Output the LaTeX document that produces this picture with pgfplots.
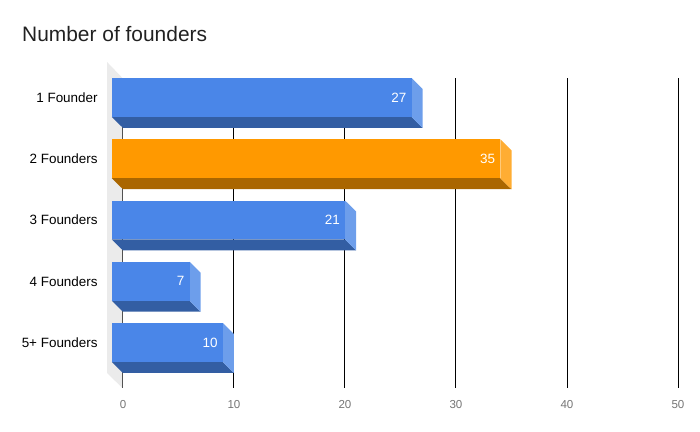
\documentclass[border=0pt]{standalone}
\usepackage{pgfplots}
\pgfplotsset{compat=1.18}
\usepackage{fontspec}
\setmainfont{Liberation Sans}

\definecolor{bfront}{HTML}{4A86E8}
\definecolor{bside}{HTML}{6D9EEB}
\definecolor{bbottom}{HTML}{335EA3}
\definecolor{ofront}{HTML}{FF9900}
\definecolor{oside}{HTML}{FFAD33}
\definecolor{obottom}{HTML}{AA6600}
\definecolor{wall}{HTML}{EBEBEB}
\definecolor{ticktext}{HTML}{757575}
\definecolor{titletext}{HTML}{212121}

% one 3D bar: value, row, front, side, bottom colour
\newcommand{\threedbar}[5]{%
  \pgfmathsetmacro{\xa}{#1-1}%
  \pgfmathsetmacro{\yt}{#2-0.318}%
  \pgfmathsetmacro{\yb}{#2+0.318}%
  \pgfmathsetmacro{\ytb}{#2-0.138}%
  \pgfmathsetmacro{\ybb}{#2+0.498}%
  \addplot[draw=none, fill=#5] coordinates {(-1,\yb) (\xa,\yb) (#1,\ybb) (0,\ybb)} -- cycle;
  \addplot[draw=none, fill=#4] coordinates {(\xa,\yt) (#1,\ytb) (#1,\ybb) (\xa,\yb)} -- cycle;
  \addplot[draw=none, fill=#3] coordinates {(-1,\yt) (\xa,\yt) (\xa,\yb) (-1,\yb)} -- cycle;
  \addplot[draw=none, nodes near coords={#1}, nodes near coords align=horizontal,
    every node near coord/.append style={anchor=east, xshift=-5bp, inner sep=0pt,
      text=white, font=\fontsize{13.5}{14}\selectfont}] coordinates {(\xa,#2)};
}

\begin{document}
\begin{tikzpicture}
\begin{axis}[
  at={(0,0)}, anchor=south west,
  scale only axis,
  width=555bp, height=310bp,
  xmin=0, xmax=50,
  ymin=-0.318, ymax=4.743,
  y dir=reverse,
  clip=false,
  axis x line=bottom, axis y line=left,
  axis line style={draw=none},
  tick style={draw=none},
  xtick={0,10,20,30,40,50},
  ytick={0,1,2,3,4},
  yticklabels={1 Founder, 2 Founders, 3 Founders, 4 Founders, 5+ Founders},
  xmajorgrids,
  grid style={black, line width=1bp},
  /pgf/number format/assume math mode=true,
  xticklabel style={font=\fontsize{11.6}{12}\selectfont, text=ticktext, yshift=-6.7bp},
  yticklabel style={font=\fontsize{13.5}{14}\selectfont, text=black, xshift=-19.7bp},
]
  % left wall
  \addplot[draw=none, fill=wall] coordinates {(-1.44,-0.58) (-0.05,-0.318) (-0.05,4.743) (-1.44,4.498)} -- cycle;

  \threedbar{27}{0}{bfront}{bside}{bbottom}
  \threedbar{35}{1}{ofront}{oside}{obottom}
  \threedbar{21}{2}{bfront}{bside}{bbottom}
  \threedbar{7}{3}{bfront}{bside}{bbottom}
  \threedbar{10}{4}{bfront}{bside}{bbottom}
\end{axis}
\node[anchor=base west, inner sep=0pt, text=titletext, font=\fontsize{21}{24}\selectfont] at (-101bp,346bp) {Number of founders};
\path[use as bounding box] (-123bp,-44bp) rectangle (577bp,388bp);
\end{tikzpicture}
\end{document}
